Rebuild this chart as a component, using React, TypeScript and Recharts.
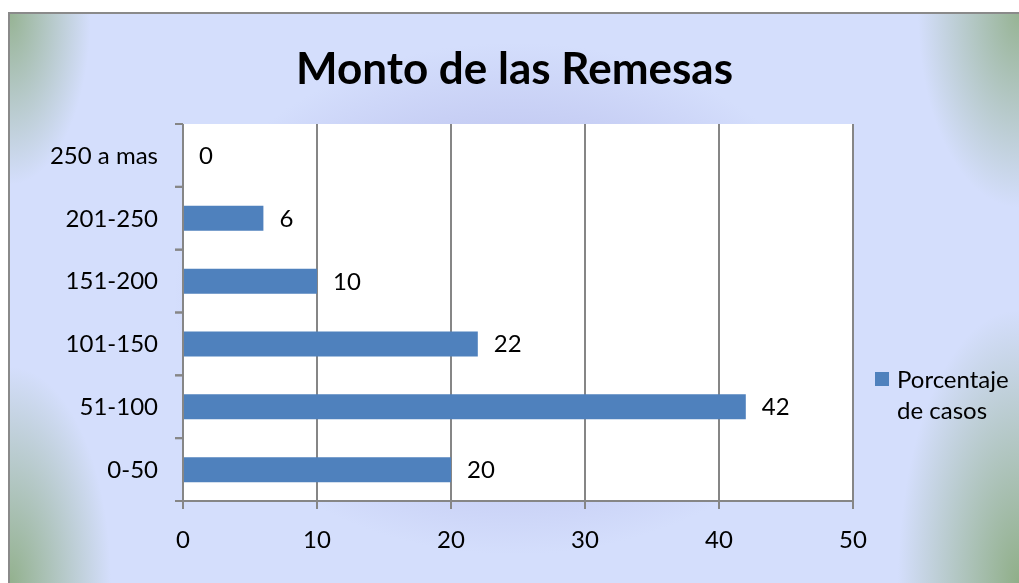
import { BarChart, Bar, XAxis, YAxis, CartesianGrid, Cell } from 'recharts';

const categories = ['0-50', '51-100', '101-150', '151-200', '201-250', '250 a mas'];
const porcentaje = [20, 42, 22, 10, 6, 0];
const xTicks = [0, 10, 20, 30, 40, 50];

const data = categories.map((rango, i) => ({ rango, porcentaje: porcentaje[i] }));

const AXIS_GRAY = '#868686';
const BAR_BLUE = '#4f81bd';

const CategoryTick = (props: any) => {
    const { x, y, payload, height, visibleTicksCount } = props;
    const band = height && visibleTicksCount ? height / visibleTicksCount : 377 / 6;
    const axisX = x + 25;
    return (
        <g>
            <line x1={axisX - 8} x2={axisX} y1={y - band / 2} y2={y - band / 2} stroke={AXIS_GRAY} strokeWidth={2} />
            <line x1={axisX - 8} x2={axisX} y1={y + band / 2} y2={y + band / 2} stroke={AXIS_GRAY} strokeWidth={2} />
            <text x={x} y={y} dy="0.35em" textAnchor="end" fill="#000" fontSize={24}>
                {payload.value}
            </text>
        </g>
    );
};

// value label right of the bar end; zero bars get a 1px invisible stub so they still get a label
const renderValue = (props: any) => {
    const { x, y, width, height, value } = props;
    const w = value === 0 ? 0 : width || 0;
    return (
        <text x={x + w + 16} y={y + height / 2} dy="0.35em" textAnchor="start" fill="#000" fontSize={24}>
            {value}
        </text>
    );
};

export default function App() {
    return (
        <div
            style={{
                position: 'fixed',
                left: 8,
                top: 12,
                width: 1011,
                height: 571,
                fontFamily: 'Lato, sans-serif',
                borderLeft: '2px solid #8a8a8a',
                borderTop: '2px solid #8a8a8a',
                boxSizing: 'border-box',
                background: [
                    'radial-gradient(ellipse 8% 30% at 0% 0%, rgba(140,172,130,0.85), rgba(140,172,130,0) 100%)',
                    'radial-gradient(ellipse 10% 38% at 0% 100%, rgba(140,172,130,0.9), rgba(140,172,130,0) 100%)',
                    'radial-gradient(ellipse 12% 48% at 100% 100%, rgba(140,172,130,0.95), rgba(140,172,130,0) 100%)',
                    'radial-gradient(ellipse 10% 34% at 100% 0%, rgba(140,172,130,0.85), rgba(140,172,130,0) 100%)',
                    'radial-gradient(ellipse 45% 60% at 50% 50%, #a7a9df 0%, #bcc2ee 35%, #d4defc 75%, #d4defc 100%)',
                ].join(', '),
                overflow: 'hidden',
            }}
        >
            <div
                style={{
                    position: 'absolute',
                    top: 27,
                    left: 0,
                    width: '100%',
                    textAlign: 'center',
                    fontSize: 44,
                    fontWeight: 'bold',
                    color: '#000',
                }}
            >
                Monto de las Remesas
            </div>
            <div style={{ position: 'absolute', left: -2, top: -2 }}>
                <BarChart
                    width={1011}
                    height={571}
                    data={data}
                    layout="vertical"
                    margin={{ top: 112, right: 166, left: 0, bottom: 0 }}
                    barSize={25}
                >
                    <CartesianGrid horizontal={false} stroke={AXIS_GRAY} strokeWidth={2} fill="#ffffff" />
                    <XAxis
                        type="number"
                        domain={[0, 50]}
                        ticks={xTicks}
                        height={82}
                        interval={0}
                        stroke={AXIS_GRAY}
                        strokeWidth={2}
                        tickSize={8}
                        tickMargin={22}
                        tick={{ fill: '#000', fontSize: 24 }}
                    />
                    <YAxis
                        type="category"
                        dataKey="rango"
                        reversed
                        width={175}
                        stroke={AXIS_GRAY}
                        strokeWidth={2}
                        tickLine={false}
                        tickSize={0}
                        tickMargin={25}
                        interval={0}
                        tick={<CategoryTick />}
                    />
                    <Bar
                        dataKey="porcentaje"
                        name="Porcentaje de casos"
                        fill={BAR_BLUE}
                        minPointSize={1}
                        isAnimationActive={false}
                        label={renderValue}
                    >
                        {data.map((d, i) => (
                            <Cell key={i} fill={d.porcentaje === 0 ? 'transparent' : BAR_BLUE} />
                        ))}
                    </Bar>
                </BarChart>
            </div>
            <div
                style={{
                    position: 'absolute',
                    left: 865,
                    top: 349,
                    display: 'flex',
                    alignItems: 'flex-start',
                    fontSize: 24,
                    lineHeight: '31px',
                    color: '#000',
                }}
            >
                <div style={{ width: 14, height: 14, background: BAR_BLUE, marginTop: 9, marginRight: 8 }} />
                <div>
                    Porcentaje
                    <br />
                    de casos
                </div>
            </div>
        </div>
    );
}
